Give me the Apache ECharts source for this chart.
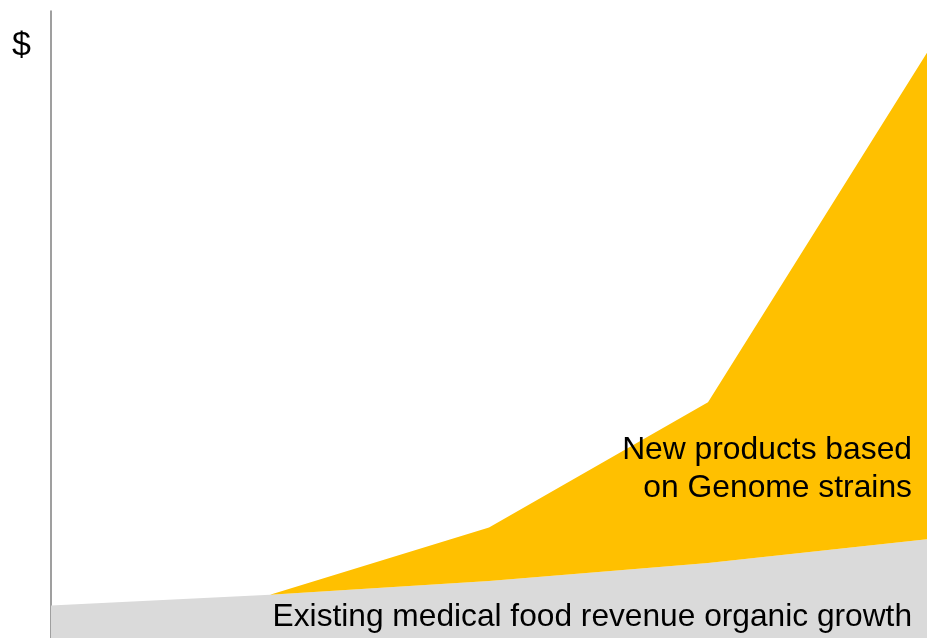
<!DOCTYPE html>
<html>
<head>
<meta charset="utf-8">
<script src="https://cdn.jsdelivr.net/npm/echarts@6/dist/echarts.min.js"></script>
<style>
html,body{margin:0;padding:0;background:#fff;}
#chart{width:949px;height:638px;}
</style>
</head>
<body>
<div id="chart"></div>
<script>
var categories = ['P1', 'P2', 'P3', 'P4', 'P5'];
var existingRevenue = [5.4, 7.2, 9.5, 12.5, 16.45];
var newProducts = [0, 0, 8.9, 26.8, 81.1];
var yMax = 104.5;

var chart = echarts.init(document.getElementById('chart'), null, {renderer: 'canvas'});
var fontFam = '"Liberation Sans", Arial, Helvetica, sans-serif';
chart.setOption({
  animation: false,
  backgroundColor: '#ffffff',
  grid: {left: 51, right: 22, top: 11, bottom: 0, containLabel: false},
  xAxis: {
    type: 'category',
    data: categories,
    boundaryGap: false,
    axisLine: {show: false},
    axisTick: {show: false},
    axisLabel: {show: false},
    splitLine: {show: false}
  },
  yAxis: {
    type: 'value',
    min: 0,
    max: yMax,
    axisLine: {show: true, lineStyle: {color: '#7f7f7f', width: 1.5}},
    axisTick: {show: false},
    axisLabel: {show: false},
    splitLine: {show: false}
  },
  series: [
    {
      name: 'Existing medical food revenue organic growth',
      type: 'line',
      stack: 'total',
      data: existingRevenue,
      symbol: 'none',
      lineStyle: {width: 0},
      areaStyle: {color: '#dadada', opacity: 1},
      z: 2
    },
    {
      name: 'New products based on Genome strains',
      type: 'line',
      stack: 'total',
      data: newProducts,
      symbol: 'none',
      lineStyle: {width: 0},
      areaStyle: {color: '#ffc000', opacity: 1},
      z: 2
    }
  ],
  graphic: [
    {type: 'text', left: 12, top: 29, z: 10,
     style: {text: '$', font: '34px ' + fontFam, fill: '#000'}},
    {type: 'text', right: 37, top: 431, z: 10,
     style: {text: 'New products based\non Genome strains', font: '31.8px ' + fontFam, fill: '#000', textAlign: 'right', lineHeight: 38}},
    {type: 'text', right: 37, top: 601, z: 10,
     style: {text: 'Existing medical food revenue organic growth', font: '31.7px ' + fontFam, fill: '#000', textAlign: 'right'}}
  ]
});
</script>
</body>
</html>
